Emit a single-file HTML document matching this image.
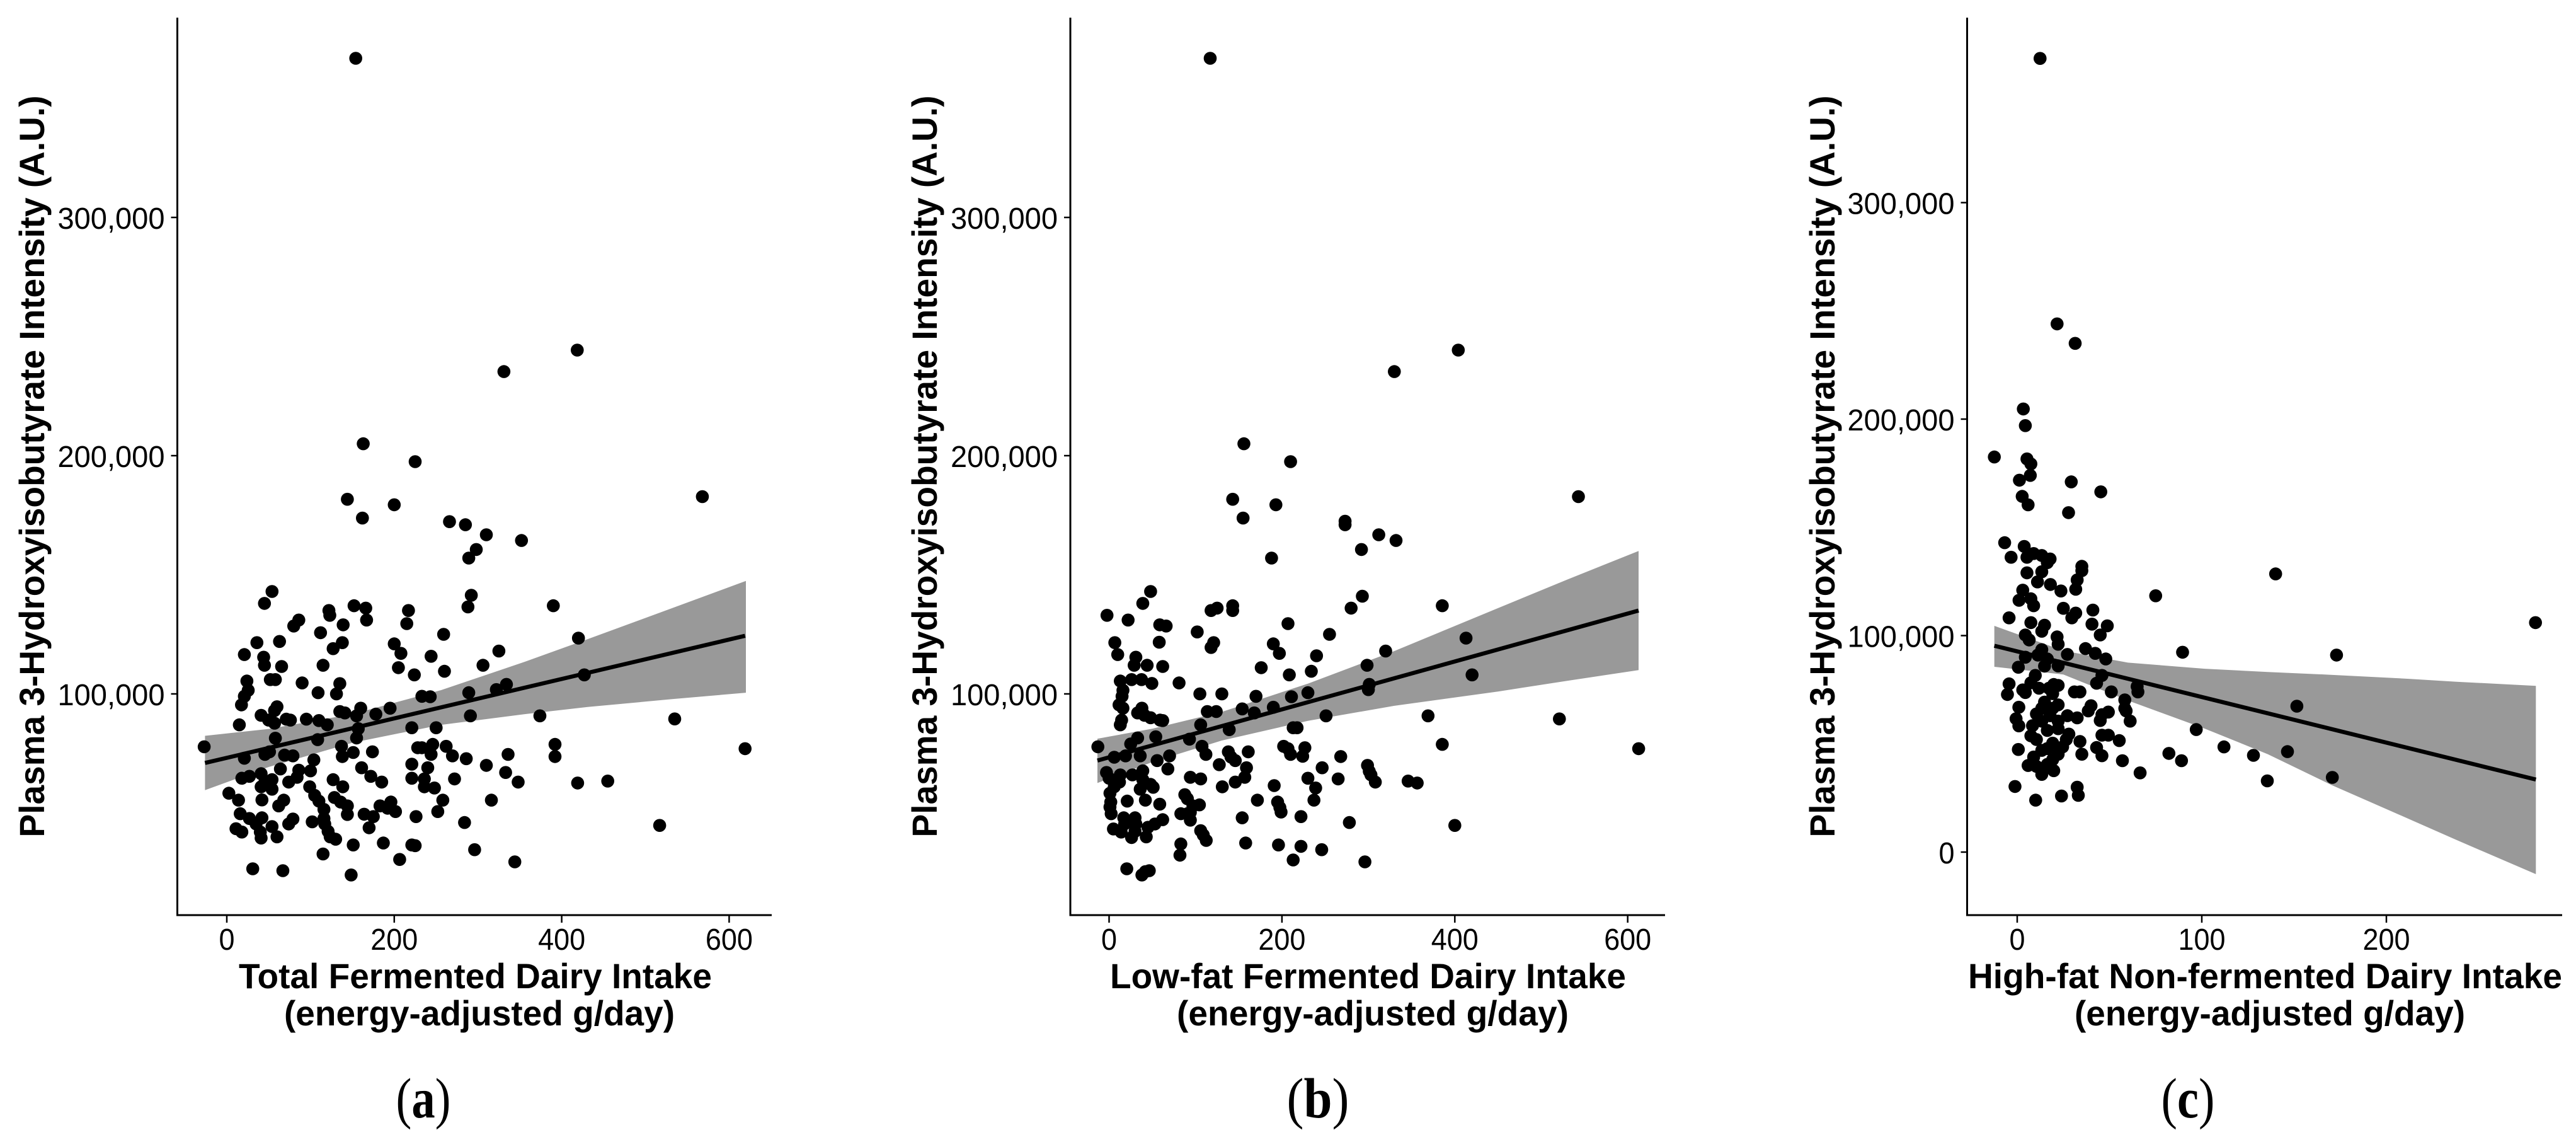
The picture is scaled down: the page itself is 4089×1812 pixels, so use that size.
<!DOCTYPE html>
<html lang="en">
<head>
<meta charset="utf-8">
<title>Plasma 3-Hydroxyisobutyrate Intensity vs Dairy Intake</title>
<style>
html,body{margin:0;padding:0;background:#fff;}
svg{display:block;}
text{font-family:"Liberation Sans",Arial,sans-serif;fill:#000;}
.axis-title{font-size:56px;font-weight:bold;}
.tick-label{font-size:48px;}
.panel-label{font-family:"Liberation Serif","Times New Roman",serif;font-size:90px;}
</style>
</head>
<body>
<svg id="figure" xmlns="http://www.w3.org/2000/svg" width="4089" height="1812" viewBox="0 0 4089 1812">
  <rect x="0" y="0" width="4089" height="1812" fill="#fff"/>

  <g id="panel-a"></g>
  <g id="panel-b"></g>
  <g id="panel-c"></g>

  <text class="axis-title" transform="translate(70,740) rotate(-90)" text-anchor="middle" textLength="1177" lengthAdjust="spacingAndGlyphs">Plasma 3-Hydroxyisobutyrate Intensity (A.U.)</text>
  <text class="axis-title" x="754.5" y="1568" text-anchor="middle" textLength="751" lengthAdjust="spacingAndGlyphs">Total Fermented Dairy Intake</text>
  <text class="axis-title" x="761" y="1627" text-anchor="middle" textLength="620" lengthAdjust="spacingAndGlyphs">(energy-adjusted g/day)</text>
  <text class="panel-label" x="672" y="1773" text-anchor="middle" textLength="87" lengthAdjust="spacingAndGlyphs">(<tspan font-weight="bold">a</tspan>)</text>

  <text class="axis-title" transform="translate(1487,740) rotate(-90)" text-anchor="middle" textLength="1177" lengthAdjust="spacingAndGlyphs">Plasma 3-Hydroxyisobutyrate Intensity (A.U.)</text>
  <text class="axis-title" x="2171.5" y="1568" text-anchor="middle" textLength="819" lengthAdjust="spacingAndGlyphs">Low-fat Fermented Dairy Intake</text>
  <text class="axis-title" x="2179" y="1627" text-anchor="middle" textLength="622" lengthAdjust="spacingAndGlyphs">(energy-adjusted g/day)</text>
  <text class="panel-label" x="2092" y="1773" text-anchor="middle" textLength="99" lengthAdjust="spacingAndGlyphs">(<tspan font-weight="bold">b</tspan>)</text>

  <text class="axis-title" transform="translate(2912,740) rotate(-90)" text-anchor="middle" textLength="1177" lengthAdjust="spacingAndGlyphs">Plasma 3-Hydroxyisobutyrate Intensity (A.U.)</text>
  <text class="axis-title" x="3595.5" y="1568" text-anchor="middle" textLength="943" lengthAdjust="spacingAndGlyphs">High-fat Non-fermented Dairy Intake</text>
  <text class="axis-title" x="3603" y="1627" text-anchor="middle" textLength="620" lengthAdjust="spacingAndGlyphs">(energy-adjusted g/day)</text>
  <text class="panel-label" x="3473" y="1773" text-anchor="middle" textLength="85" lengthAdjust="spacingAndGlyphs">(<tspan font-weight="bold">c</tspan>)</text>
</svg>

<script>
// ---- Panel A data: Total fermented dairy intake (g/day), intensity (thousands A.U.) ----
const panelAPoints = [
[154,366.8],[418.6,244.3],[331,235.3],[163,205],[225,197.5],[144,181.7],[568,182.8],[200,179.4],[162,173.8],[266,172.3],[285,171],[310,166.8],[352,164.4],[298,160.6],[289,157],
[54,143],[45,138],[152,137],[166,136],[122,135],[123,133],[217,135],[288,136.5],[292,141.4],[390,137],[167,131],[86,131],[80,128.5],[139,129],[215,129.5],[259,125],[112,125.7],[36,121.5],[63,122],[138,121.5],[127,119],[200,121],[420,123.4],[21,116.5],[208,117],[44,115.4],[244,115.8],[325,118],[45,112],[65.5,111.5],[115,112],[205,111],[306,112],[260,109.5],[224,108],[427,108],[24,105.4],[52,106],[58,106],[90,104.6],[135,104.3],[25.6,101.5],[109,100.5],[131,100],[334,104],[322,101.8],[289,100.5],[233,99],[243,98.8],[21,99],[17.5,95.4],[60,94.6],[57,93],[160,94],[135,92.6],[141,92],[195,94],[178,91.5],[155,90.8],[41,91],[50,89],[57,87.7],[71,89.4],[76,89],[95,89.4],[110,88.8],[120,87],[15,87],[291,90.8],[374,90.8],[535,89.5],[221,85.8],[250,85.8],[157,85.4],[155,81.5],[58,81.4],[108.5,80.8],[-27,77.8],[246,78.8],[392,78.8],[262,78],[228,77.4],[233,77.4],[137,78],[619,77],[151,75.4],[174,75.7],[244,74.6],[336,74.6],[392,73.7],[269.5,74],[138,73.7],[45.5,74.6],[51,75.7],[21,73],[69,74.3],[79,74],[104,72.3],[286,72.8],[221,70.5],[310,70],[64,68.5],[161,69],[240,69],[86,68],[100,67.7],[333,67],[41,66.5],[272,64.3],[18,64.6],[27,65.4],[172,65.4],[127,64],[221,64.6],[236,64.3],[84,65],[74,63],[54,64],[45.5,63],[185,63],[348,63],[419,62.6],[455,63.4],[41,61],[54,60],[99,61],[138.5,61],[236,61],[248,60.5],[2.5,58.3],[105,57.4],[128.5,56.5],[42,55.5],[14,55.4],[110,55],[68,55.4],[258,55.4],[316,55.4],[62,53],[136,54.6],[144,53],[196,54.6],[183,53],[192,52],[201.5,50.6],[116,51.5],[252,50.6],[144,49.4],[164,49.5],[16,49.7],[175,48.5],[42,48],[116,47.7],[27,47.7],[79,47.5],[226,48.5],[102,46.3],[284,46],[74,45.4],[117,45.4],[35,45.4],[517,44.8],[170,43.8],[54,44.3],[11,43.4],[18,42],[121,42.3],[40,42],[60,40],[41,39.5],[123.5,40],[130,39],[187,37.4],[151,36.6],[225,36.3],[221,36.6],[296,34.6],[115,32.8],[206.5,30.5],[344,29.5],[31,26.6],[67,25.8],[148.5,24]
];
const panelARibbonX = [-26,50,150,256,356,431,532,620];
const panelARibbonUpper = [82.4,85.3,91.5,101.6,113.5,123,136,147.4];
const panelARibbonLower = [59.6,69.3,79.5,87,91.5,94.5,97.8,100.5];
const panelALineX = [-26,619];
const panelALineY = [71,124.4];
const panelAXTicks = [0,200,400,600];
const panelAYTicks = [100,200,300];
const panelAYTickLabels = ["100,000","200,000","300,000"];

// ---- Panel B data: Low-fat fermented dairy intake ----
const panelBPoints = [
[117,366.8],[404,244.3],[330,235.3],[156,205],[210,197.5],[143,181.7],[543,182.8],[193,179.4],[155,173.8],[273,172.5],[273,171],[312,166.8],[332,164.4],[292,160.6],[188,157],
[48,143],[39,138],[293,141],[280,136],[385.5,137],[143,137],[143,135],[125,136],[118,135],[-2.4,133],[22,131],[207,129.5],[58.6,129],[66,128.5],[102,126],[255,125],[413,123.4],[58,121.7],[6.6,121.5],[121,121.5],[190,121],[118,119.5],[320,118],[197,117],[10,116.5],[240,116],[31,115.4],[29,112],[44,112],[62,111.5],[176,111],[298.5,112],[234,109.5],[208.5,108],[420,108],[13,105.4],[26,106],[37.5,106],[49.5,104.4],[81,104.6],[301,104],[300,101.8],[16,101.5],[230,100.5],[105,100],[130.5,100],[170,99],[211,98.8],[15,99],[11.5,95.4],[38,94],[16,94],[154,93.7],[190,94.4],[33,92],[113.6,92.6],[124,92.6],[168,92],[41,91],[48,90],[59,89],[251,90.8],[369,90.8],[521,89.5],[62,88.8],[14.5,89],[13,87],[106,87],[213,85.8],[217.5,85.8],[139,85],[93,81],[54,82],[33,81.5],[-13,77.8],[202,78],[385.5,78.8],[25,79],[107.5,78],[161,75.7],[226.5,77.4],[207,77],[612.7,77],[138,75.7],[210,74.6],[112,74.6],[19,74],[6,73.4],[36,74],[70,74],[224,73.8],[268,73.7],[141,73.5],[299,70],[146,72],[55.6,72],[127.5,70.3],[159,69],[246.5,69],[68,68.5],[301,67.5],[39,67.7],[303,66],[-3,67],[13,66],[27,66],[230,64.6],[265,64.3],[94,65],[106,64.3],[157,65],[146,63],[308,63],[346,63.4],[356.5,62.6],[0,64.6],[12,63],[39,64],[48,62],[131,61],[191,61.5],[239,60.5],[51,60.8],[6,61],[36,60],[1,58.3],[87.6,57.7],[90.6,56],[21,55],[42,55.4],[171.6,55.4],[237,55.4],[2,54.6],[195,54.6],[58.6,53.7],[97,53],[104.5,53.4],[197.6,52.3],[1,52.5],[199,50.4],[94,50.3],[83,49.7],[2.4,49.7],[90.6,49.7],[154,48],[222,48.5],[30,48],[17,48],[62,47.2],[94,47],[278,46],[53,45.4],[18,45.4],[31,45.4],[400,44.8],[45,44],[5,43.3],[14,42],[30,42.3],[106,42.6],[109,40.8],[26,39.7],[43,40],[112.4,38.5],[83,37],[158,37.4],[196,36.6],[222,36],[82,32.3],[246,34.6],[213,30.3],[296,29.5],[20.5,26.6],[46.5,25.8],[42,25.4],[38,24]
];
const panelBRibbonX = [-13.5,50,130,230,330,450,530,612.6];
const panelBRibbonUpper = [81.2,85.4,92.4,104.3,118,136,148,160];
const panelBRibbonLower = [62.6,71.4,80.4,88.7,95,101,105.5,110];
const panelBLineX = [-13.5,612.6];
const panelBLineY = [72,135];
const panelBXTicks = [0,200,400,600];
const panelBYTicks = [100,200,300];
const panelBYTickLabels = ["100,000","200,000","300,000"];

// ---- Panel C data: High-fat non-fermented dairy intake ----
const panelCPoints = [
[12.4,366.6],[21.6,244],[31.4,235],[3.3,204.7],[4.4,197],[-12.4,182.5],[5.3,181.6],[7.4,179.3],[7.1,174],[1.2,171.8],[29.3,171],[45.3,166.4],[2.7,164.3],[5.9,160.4],[27.8,156.8],[-6.8,142.9],[3.8,141.2],[-3.3,136.2],[8.9,137.9],[13.3,137],[17.8,135.4],[5.3,136.2],[16.3,133.7],[35,132],
[140,128.5],[5.3,129],[13.3,129.5],[35,130],[11,124.8],[18,123.6],[32.5,125.7],[31.7,121.4],[23.7,120.6],[3,121],[75,118.4],[1,116.3],[7.4,117],[8.9,113.8],[25,112.6],[41,111.8],[31.7,110.4],[29.6,108.2],[-4.4,108.2],[7.4,106],[280.8,106],[40.5,105.3],[48.8,104.5],[14.8,104.8],[45,100.3],[13.3,102],[4.4,100.3],[21.6,99.4],[6.5,98],[22.2,96],[37,94],[89.6,92.3],[173,91],[27.2,91.3],[42.3,91.8],[13.3,93.5],[11.2,91],[48,89.2],[4.4,90],[16.3,89.2],[22.2,86],[0.6,85.4],[14.8,85.9],[9.8,81.6],[45.9,81.6],[43,78],[19.8,77.4],[-4.4,77.7],[7.4,78.2],[65,76.5],[3,74.9],[11.8,75.7],[17.2,75.7],[22.2,77],[31,74],[34,74],[51,74],[65.4,74],[-5.3,72.8],[4.4,73.7],[19.2,73.2],[58.3,70.3],[14.8,69.3],[22.2,68],[40,67.6],[151.5,67.4],[58.3,66.4],[0.9,66.9],[13.3,66.4],[19.2,66.4],[38.5,65.2],[59,65.2],[49.4,64.7],[45.9,63.5],[10.4,63.8],[27.2,63],[32.5,62],[17.8,63],[61.2,60.5],[45,60.8],[-0.6,61.6],[13.3,60.5],[22.2,60.5],[0.9,58.3],[8.3,58.4],[97,56.6],[7.4,53.7],[22.2,57],[16.3,56.2],[28,54.5],[45.9,54],[49.4,54],[34,51.1],[55.3,51.5],[26.6,52],[10.4,52],[19.2,50.3],[112,48.6],[43,48.3],[24.6,48.6],[0.6,47.4],[16.3,47.8],[146.4,46.4],[82.2,45.6],[35,45.2],[45.9,44.5],[22.2,45.2],[13.3,47],[128,44.7],[89,42.2],[57,42.2],[8.9,43.9],[19.2,42.7],[5.9,40],[16.3,40.5],[10.4,39.6],[19.8,37.6],[13.3,35.9],[66.6,36.6],[170.7,34.5],[135.5,32.9],[-1.2,30.3],[32.5,30],[33.1,26.2],[24,25.9],[10,24]
];
const panelCRibbonX = [-12.4,25,60,101.7,135.8,170,213,238,281];
const panelCRibbonUpper = [104.5,93,87.5,84.7,83.2,81.9,80,78.7,76.8];
const panelCRibbonLower = [85.6,82,70,57,45.2,31.1,15,5.6,-10.2];
const panelCLineX = [-12.4,281];
const panelCLineY = [95.3,33.5];
const panelCXTicks = [0,100,200];
const panelCYTicks = [0,100,200,300];
const panelCYTickLabels = ["0","100,000","200,000","300,000"];

const SVG_NS = "http://www.w3.org/2000/svg";

function make(tag, attrs, parent) {
  const el = document.createElementNS(SVG_NS, tag);
  Object.keys(attrs).forEach(function (k) { el.setAttribute(k, attrs[k]); });
  parent.appendChild(el);
  return el;
}

function drawPanel(id, frame, points, ribbonX, ribbonUpper, ribbonLower, lineX, lineY, xTicks, yTicks, yTickLabels) {
  const root = document.getElementById(id);
  const xScale = function (v) { return frame.xZero + v * frame.xUnit; };
  const yScale = function (v) { return frame.yZero - v * frame.yUnit; };

  // confidence ribbon
  const top = ribbonX.map(function (x, i) { return xScale(x).toFixed(1) + "," + yScale(ribbonUpper[i]).toFixed(1); });
  const bottom = ribbonX.map(function (x, i) { return xScale(x).toFixed(1) + "," + yScale(ribbonLower[i]).toFixed(1); }).reverse();
  const ribbon = make("polygon", { points: top.concat(bottom).join(" "), fill: "#999999" }, root);
  
  

  // regression line
  const line = make("polyline", {
    points: lineX.map(function (x, i) { return xScale(x).toFixed(1) + "," + yScale(lineY[i]).toFixed(1); }).join(" "),
    fill: "none", stroke: "#000", "stroke-width": 6.5
  }, root);
  
  

  // points
  points.forEach(function (p) {
    const dot = make("circle", { cx: xScale(p[0]).toFixed(1), cy: yScale(p[1]).toFixed(1), r: 10.3, fill: "#000" }, root);
    
    
  });

  // axes
  const yAxis = make("line", { x1: frame.axisX, y1: 28, x2: frame.axisX, y2: 1453.5, stroke: "#000", "stroke-width": 3 }, root);
  
  

  const xAxis = make("line", { x1: frame.axisX - 1.5, y1: 1452, x2: frame.axisEnd, y2: 1452, stroke: "#000", "stroke-width": 3 }, root);
  
  

  // x ticks
  xTicks.forEach(function (v) {
    const px = xScale(v);
    const tick = make("line", { x1: px, y1: 1452, x2: px, y2: 1464, stroke: "#000", "stroke-width": 2.5 }, root);
    
    
    const label = make("text", {
      class: "tick-label", x: px, y: 1507, "text-anchor": "middle",
      textLength: String(v).length * 25, lengthAdjust: "spacingAndGlyphs"
    }, root);
    
    
    label.textContent = String(v);
  });

  // y ticks
  yTicks.forEach(function (v, i) {
    const py = yScale(v);
    const tick = make("line", { x1: frame.axisX - 10, y1: py, x2: frame.axisX, y2: py, stroke: "#000", "stroke-width": 2.5 }, root);
    
    
    const text = yTickLabels[i];
    const digits = text.replace(/,/g, "").length;
    const commas = text.length - digits;
    const label = make("text", {
      class: "tick-label", x: frame.axisX - 20, y: py + 18, "text-anchor": "end",
      textLength: digits * 25 + commas * 20, lengthAdjust: "spacingAndGlyphs"
    }, root);
    
    
    label.textContent = text;
  });
}

drawPanel("panel-a", { axisX: 281.5, axisEnd: 1225, xZero: 360, xUnit: 1.329, yZero: 1479, yUnit: 3.78 },
  panelAPoints, panelARibbonX, panelARibbonUpper, panelARibbonLower, panelALineX, panelALineY, panelAXTicks, panelAYTicks, panelAYTickLabels);
drawPanel("panel-b", { axisX: 1699, axisEnd: 2643, xZero: 1760.5, xUnit: 1.372, yZero: 1479, yUnit: 3.78 },
  panelBPoints, panelBRibbonX, panelBRibbonUpper, panelBRibbonLower, panelBLineX, panelBLineY, panelBXTicks, panelBYTicks, panelBYTickLabels);
drawPanel("panel-c", { axisX: 3122.5, axisEnd: 4067, xZero: 3202, xUnit: 2.93, yZero: 1352, yUnit: 3.435 },
  panelCPoints, panelCRibbonX, panelCRibbonUpper, panelCRibbonLower, panelCLineX, panelCLineY, panelCXTicks, panelCYTicks, panelCYTickLabels);
</script>
</body>
</html>
